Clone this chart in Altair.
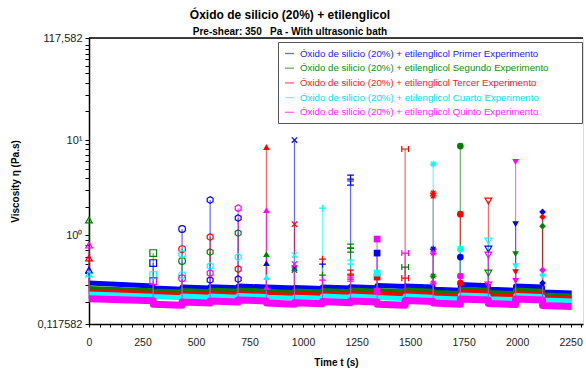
import altair as alt
import pandas as pd

FONT = "Liberation Sans"

SERIES = [
    "Óxido de silicio (20%) + etilenglicol Primer Experimento",
    "Óxido de silicio (20%) + etilenglicol Segundo Experimento",
    "Óxido de silicio (20%) + etilenglicol Tercer Experimento",
    "Óxido de silicio (20%) + etilenglicol Cuarto Experimento",
    "Óxido de silicio (20%) + etilenglicol Quinto Experimento",
]
KEYS = ["B", "G", "R", "C", "M"]
COLORS = ["#0000ff", "#008000", "#ff0000", "#00ffff", "#ff00ff"]

# start time of each measuring interval (s) and end of run
seg_start = [0, 300, 435, 566, 697, 829, 960, 1091, 1222, 1346, 1477, 1608, 1735, 1866, 1993, 2119]
run_end = 2255

# viscosity of the steady band at start / end of each interval (Pa.s)
band_start = {
    "B": [0.316, 0.280, 0.287, 0.290, 0.294, 0.287, 0.284, 0.287, 0.290, 0.298, 0.294, 0.273, 0.305, 0.273, 0.294, 0.254],
    "G": [0.277, 0.261, 0.264, 0.267, 0.267, 0.258, 0.261, 0.264, 0.267, 0.264, 0.267, 0.251, 0.273, 0.251, 0.267, 0.237],
    "R": [0.258, 0.242, 0.245, 0.248, 0.248, 0.240, 0.242, 0.245, 0.248, 0.242, 0.248, 0.234, 0.254, 0.234, 0.248, 0.223],
    "C": [0.242, 0.228, 0.231, 0.231, 0.234, 0.225, 0.225, 0.231, 0.231, 0.223, 0.231, 0.220, 0.237, 0.217, 0.234, 0.210],
    "M": [0.217, 0.190, 0.200, 0.205, 0.210, 0.195, 0.197, 0.202, 0.205, 0.190, 0.207, 0.195, 0.215, 0.193, 0.215, 0.184],
}
band_end = {
    "B": [0.295, 0.273, 0.280, 0.283, 0.287, 0.280, 0.277, 0.280, 0.283, 0.291, 0.287, 0.266, 0.297, 0.266, 0.287, 0.248],
    "G": [0.262, 0.254, 0.257, 0.260, 0.260, 0.252, 0.254, 0.257, 0.260, 0.257, 0.260, 0.245, 0.266, 0.245, 0.260, 0.231],
    "R": [0.245, 0.236, 0.239, 0.242, 0.242, 0.234, 0.236, 0.239, 0.242, 0.236, 0.242, 0.228, 0.248, 0.228, 0.242, 0.217],
    "C": [0.230, 0.222, 0.225, 0.225, 0.228, 0.219, 0.219, 0.225, 0.225, 0.217, 0.225, 0.215, 0.231, 0.212, 0.228, 0.205],
    "M": [0.206, 0.185, 0.195, 0.200, 0.205, 0.190, 0.192, 0.197, 0.200, 0.185, 0.202, 0.190, 0.210, 0.188, 0.210, 0.179],
}

HEX = "M0,-1L0.866,-0.5L0.866,0.5L0,1L-0.866,0.5L-0.866,-0.5Z"
CROSS = "M-0.8,-0.8L0.8,0.8M-0.8,0.8L0.8,-0.8"
PLUS = "M-1,0L1,0M0,-1L0,1"
IBAR = "M-1,-0.6L1,-0.6M-1,0.6L1,0.6M0,-0.6L0,0.6"
HBAR = "M-1,-0.9L-1,0.9M1,-0.9L1,0.9M-1,0L1,0"
STAR = "M-1,0L1,0M0,-1L0,1M-0.7,-0.7L0.7,0.7M-0.7,0.7L0.7,-0.7"

seg_shape = ["triangle-up", "square", "circle", HEX, HEX, "triangle-up", CROSS, PLUS,
             IBAR, "square", HBAR, STAR, "circle", "triangle-down", "triangle-down", "diamond"]
seg_filled = [False, False, False, False, False, True, False, False,
              False, True, False, False, True, False, True, True]

# spike points at the start of each interval
peak_seg = [0, 0, 0, 0, 0,
            1, 1, 1, 1,
            2, 2, 2, 2, 2, 2,
            3, 3, 3, 3, 3, 3,
            4, 4, 4, 4, 4, 4,
            5, 5, 5, 5, 5, 5,
            6, 6, 6, 6, 6, 6,
            7, 7, 7, 7, 7,
            8, 8, 8, 8, 8, 8, 8, 8,
            9, 9, 9, 9, 9,
            10, 10, 10, 10,
            11, 11, 11, 11, 11, 11, 11,
            12, 12, 12, 12, 12, 12,
            13, 13, 13, 13, 13, 13,
            14, 14, 14, 14, 14, 14,
            15, 15, 15, 15, 15, 15]
peak_series = ["G", "M", "R", "B", "C",
               "G", "B", "C", "M",
               "B", "R", "C", "G", "C", "M",
               "B", "R", "G", "C", "M", "B",
               "M", "B", "G", "C", "R", "B",
               "R", "M", "G", "B", "C", "M",
               "B", "R", "C", "M", "G", "B",
               "C", "R", "B", "G", "M",
               "B", "B", "G", "G", "C", "R", "R", "M",
               "M", "B", "C", "R", "M",
               "R", "M", "G", "R",
               "C", "R", "R", "B", "M", "G", "M",
               "G", "R", "C", "B", "M", "R",
               "R", "C", "B", "M", "G", "M",
               "M", "B", "G", "C", "R", "M",
               "B", "R", "G", "M", "C", "B"]
peak_value = [1.45, 0.791, 0.578, 0.433, 0.393,
              0.652, 0.512, 0.383, 0.332,
              1.165, 0.718, 0.637, 0.538, 0.383, 0.356,
              2.35, 0.960, 0.668, 0.476, 0.402, 0.340,
              1.93, 1.52, 1.057, 0.592, 0.443, 0.348,
              8.45, 1.84, 0.637, 0.512, 0.365, 0.287,
              10.0, 1.31, 0.622, 0.500, 0.433, 0.454,
              1.93, 0.564, 0.500, 0.383, 0.340,
              4.09, 3.54, 0.772, 0.701, 0.525, 0.412, 0.365, 0.348,
              0.915, 0.652, 0.402, 0.365, 0.260,
              8.05, 0.652, 0.465, 0.356,
              5.60, 2.78, 2.59, 0.718, 0.652, 0.374, 0.316,
              8.65, 1.67, 0.718, 0.592, 0.374, 0.316,
              2.29, 0.872, 0.718, 0.622, 0.402, 0.301,
              5.88, 1.31, 0.637, 0.476, 0.412, 0.332,
              1.76, 1.56, 1.25, 0.433, 0.383, 0.316]

name_of = dict(zip(KEYS, SERIES))
rank_of = {k: i for i, k in enumerate(KEYS)}

# band line table
band_rows = []
for k in KEYS:
    n = 0
    for i, t0 in enumerate(seg_start):
        t1 = seg_start[i + 1] if i + 1 < len(seg_start) else run_end
        band_rows.append({"series": name_of[k], "key": k, "t": t0, "v": band_start[k][i], "o": n})
        band_rows.append({"series": name_of[k], "key": k, "t": t1, "v": band_end[k][i], "o": n + 1})
        n += 2
band_df = pd.DataFrame(band_rows)

# marker table
pts = pd.DataFrame({"seg": peak_seg, "key": peak_series, "v": peak_value})
pts["series"] = pts["key"].map(name_of)
pts["rank"] = pts["key"].map(rank_of)
pts["t"] = pts["seg"].map(lambda s: seg_start[s])
pts["shape"] = pts["seg"].map(lambda s: seg_shape[s])
pts["filled"] = pts["seg"].map(lambda s: seg_filled[s])
pts = pts.sort_values(["rank", "seg"]).reset_index(drop=True)

# spike lines: from the band up to the highest point of each series in each interval
spk = pts.groupby(["key", "seg"], as_index=False)["v"].max()
spk["series"] = spk["key"].map(name_of)
spk["rank"] = spk["key"].map(rank_of)
spk["t"] = spk["seg"].map(lambda s: seg_start[s])
spk["base"] = [band_start[k][s] for k, s in zip(spk["key"], spk["seg"])]
spk = spk.sort_values(["rank", "seg"]).reset_index(drop=True)

W, H = 494, 286

x_scale = alt.Scale(domain=[0, 2308], nice=False, zero=False)
y_scale = alt.Scale(type="log", domain=[0.117582, 117.582], nice=False)
c_scale = alt.Scale(domain=SERIES, range=COLORS)

y_ticks = [0.117582, 0.2, 0.3, 0.4, 0.5, 0.6, 0.7, 0.8, 0.9, 1, 2, 3, 4, 5, 6, 7, 8, 9,
           10, 20, 30, 40, 50, 60, 70, 80, 90, 100, 117.582]
x_ticks = list(range(0, 2301, 50))

x_enc = alt.X("t:Q", scale=x_scale, axis=alt.Axis(
    title="Time t (s)", values=x_ticks,
    labelExpr="datum.value % 250 == 0 ? format(datum.value, 'd') : ''",
    grid=False, tickSize=3, labelPadding=10, titlePadding=10,
    labelFontSize=10.5, titleFontSize=10, titleFontWeight="bold",
    labelFont=FONT, titleFont=FONT, labelColor="#222", titleColor="#000",
    domainColor="#000", domainWidth=1.5, tickColor="#000", labelOverlap=False,
    labelFlush=False))
y_enc = alt.Y("v:Q", scale=y_scale, axis=alt.Axis(
    title="Viscosity η (Pa.s)", values=y_ticks,
    labelExpr="datum.value == 1 ? '10⁰' : datum.value == 10 ? '10¹' : datum.value > 117 ? '117,582' : datum.value < 0.12 ? '0,117582' : ''",
    grid=False, tickSize=4, labelPadding=3, titlePadding=16,
    labelFontSize=11, titleFontSize=10, titleFontWeight="bold",
    labelFont=FONT, titleFont=FONT, labelColor="#222", titleColor="#000",
    domainColor="#000", domainWidth=1.5, tickColor="#000", labelOverlap=False,
    labelFlush=False))

label_color = ("indexof(datum.label,'Primer')>=0 ? '#2020ff' : "
               "indexof(datum.label,'Segundo')>=0 ? '#108a10' : "
               "indexof(datum.label,'Tercer')>=0 ? '#ff2020' : "
               "indexof(datum.label,'Cuarto')>=0 ? '#00e0e0' : '#ff20ff'")

legend = alt.Legend(
    title=None, orient="none", legendX=189, legendY=4,
    fillColor="#ffffff", strokeColor="#555555", padding=6,
    labelFont=FONT, labelFontSize=9.7, labelLimit=600,
    labelColor={"expr": label_color},
    labelExpr="datum.label + '" + "\u00a0" * 10 + "\u200b'",
    symbolType="stroke", symbolSize=80, symbolStrokeWidth=1.3,
    rowPadding=3.7, labelOffset=5)

color_enc = alt.Color("series:N", scale=c_scale, legend=legend, sort=SERIES)

rules = alt.Chart(spk).mark_rule(strokeWidth=1.2, opacity=0.6).encode(
    x=x_enc, y=alt.Y("v:Q", scale=y_scale), y2="base:Q",
    color=color_enc,
)

band = alt.Chart(band_df).transform_filter("datum.key != 'M'").mark_line(
    strokeJoin="round", strokeWidth=5).encode(
    x=x_enc, y=y_enc,
    color=color_enc,
    order="o:Q",
)

band_m = alt.Chart(band_df).transform_filter("datum.key == 'M'").mark_line(
    strokeJoin="round", strokeWidth=7).encode(
    x=x_enc, y=y_enc,
    color=color_enc,
    order="o:Q",
)

open_pts = alt.Chart(pts).transform_filter("!datum.filled").mark_point(
    filled=False, size=45, strokeWidth=1.2, opacity=1).encode(
    x=x_enc, y=alt.Y("v:Q", scale=y_scale),
    color=color_enc,
    shape=alt.Shape("shape:N", scale=None),
)

filled_pts = alt.Chart(pts).transform_filter("datum.filled").mark_point(
    filled=True, size=45, opacity=1).encode(
    x=x_enc, y=alt.Y("v:Q", scale=y_scale),
    color=color_enc,
    shape=alt.Shape("shape:N", scale=None),
)

top_line = alt.Chart(pd.DataFrame({"a": [0]})).mark_rule(color="#000", strokeWidth=1.5).encode(
    x=alt.value(0), x2=alt.value(W), y=alt.value(0)
)

chart = alt.layer(band, band_m, rules, open_pts, filled_pts, top_line).properties(
    width=W, height=H,
    padding={"left": 10, "top": 9, "right": 0, "bottom": 2},
    title=alt.Title(
        "Óxido de silicio (20%) + etilenglicol",
        subtitle="Pre-shear: 350\u00a0\u00a0\u00a0Pa - With ultrasonic bath",
        font=FONT, fontSize=12, fontWeight="bold", color="#000",
        subtitleFont=FONT, subtitleFontSize=10, subtitleFontWeight="bold",
        subtitleColor="#000", subtitlePadding=5, anchor="middle", frame="group",
        dx=-46, offset=-6),
).configure_view(stroke=None).configure(background="#ffffff")

chart.save("out.html", embed_options={"renderer": "svg", "actions": False})
